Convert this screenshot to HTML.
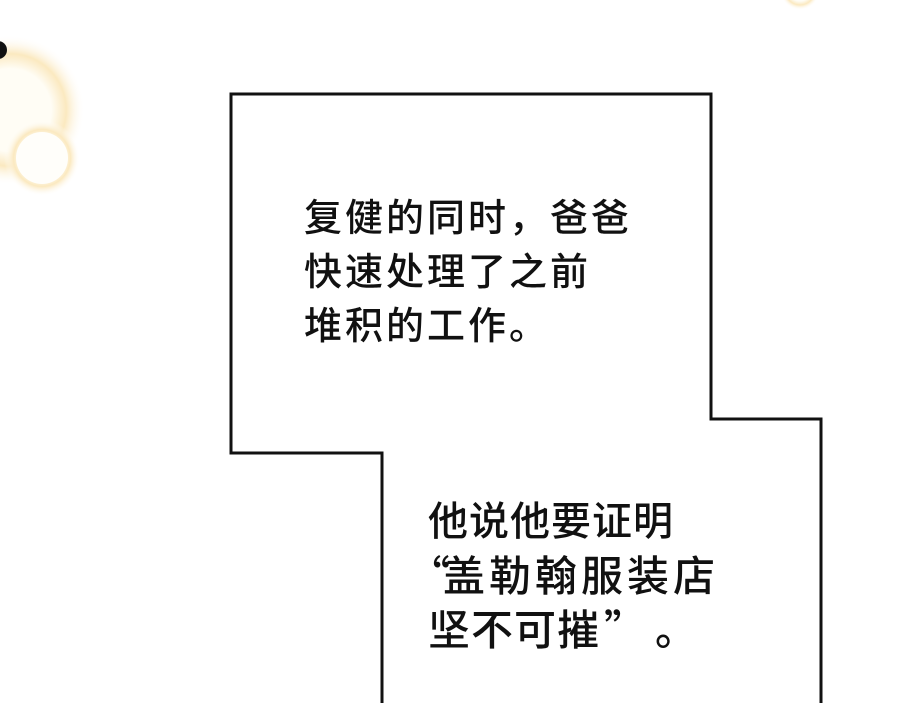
<!DOCTYPE html>
<html><head><meta charset="utf-8"><style>
html,body{margin:0;padding:0;}
body{width:900px;height:703px;position:relative;overflow:hidden;background:#fff;font-family:"Liberation Sans","Noto Sans CJK SC",sans-serif;color:#111;}
.l{position:absolute;white-space:nowrap;font-size:38px;line-height:40px;letter-spacing:3px;font-weight:500;}
.b{font-size:40px;letter-spacing:1px;}
.c{font-size:42px;letter-spacing:1px;}
.q{font-family:"Noto Sans CJK SC",sans-serif;}
</style></head><body>
<svg width="900" height="703" style="position:absolute;left:0;top:0">
<defs>
<radialGradient id="g" cx="0.5" cy="0.5" r="0.5">
<stop offset="0.55" stop-color="#fffdf5"/>
<stop offset="0.75" stop-color="#fbe9c0"/>
<stop offset="1" stop-color="#fff" stop-opacity="0"/>
</radialGradient>
</defs>
<circle cx="10" cy="110" r="75" fill="url(#g)"/>
<circle cx="42" cy="158" r="38" fill="url(#g)"/>
<circle cx="42" cy="158" r="26" fill="#fffefa"/>
<circle cx="-2" cy="50" r="9" fill="#111"/>
<circle cx="800" cy="-10" r="20" fill="url(#g)"/>
<polygon points="231,94 711,94 711,419 821,419 821,705 382,705 382,453 231,453" fill="#fff" stroke="#111" stroke-width="3"/>
</svg>
<div class="l" style="left:304px;top:199px">复健的同时，爸爸</div>
<div class="l" style="left:304px;top:253px">快速处理了之前</div>
<div class="l" style="left:304px;top:307px">堆积的工作。</div>
<div class="l b" style="left:428px;top:502px">他说他要证明</div>
<div class="l c" style="left:408px;top:554px;letter-spacing:4px"><span class="q" style="letter-spacing:-7px">“</span>盖勒翰服装店</div>
<div class="l c" style="left:428px;top:608px">坚不可摧<span class="q" style="margin-left:4px;letter-spacing:30px">”</span><span class="q">。</span></div>
</body></html>
